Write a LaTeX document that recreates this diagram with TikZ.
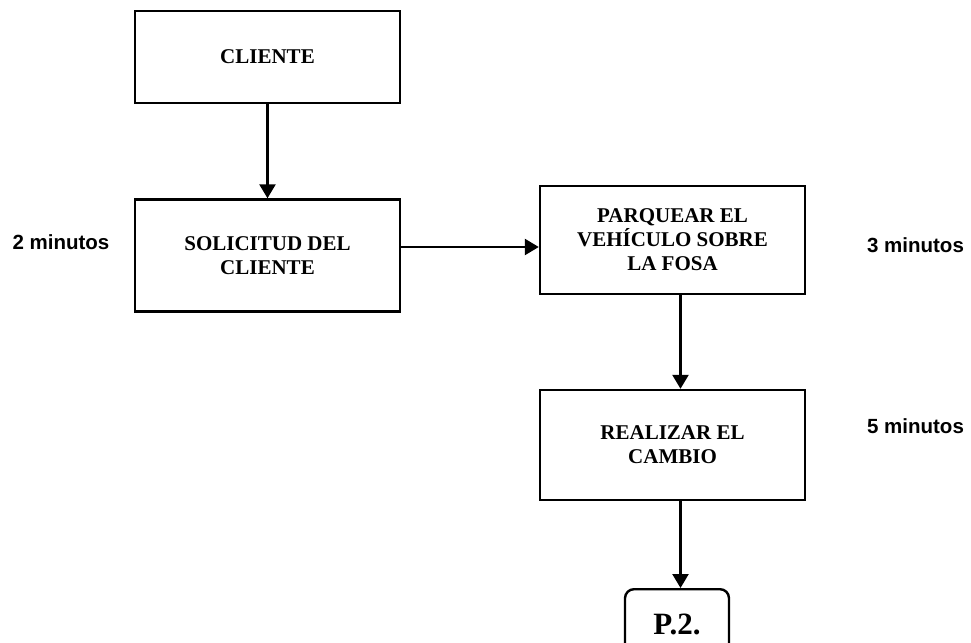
\documentclass[tikz,border=0pt]{standalone}
\usepackage{fontspec}
\setmainfont{Liberation Serif}
\newfontfamily\arialfont{Liberation Sans}
\usetikzlibrary{arrows.meta}
\begin{document}
\begin{tikzpicture}[x=1pt,y=-1pt,
  stepbox/.style={draw,line width=2.4pt,minimum width=265pt,align=center,
    inner sep=0pt,font=\fontsize{21}{24}\selectfont\bfseries},
  flow/.style={line width=2.4pt,-{Triangle[length=14pt,width=16pt]}},
  timelabel/.style={inner sep=0pt,anchor=base,
    font=\arialfont\fontsize{20.5}{24}\selectfont\bfseries}]
\useasboundingbox (0,0) rectangle (971,642);

% process steps
\node[stepbox,minimum height=92pt]  (cliente) at (267.5,57)    {CLIENTE};
\node[stepbox,minimum height=112pt] (sol)     at (267.5,255.5) {SOLICITUD DEL\\CLIENTE};
\node[stepbox,minimum height=108pt] (park)    at (672.5,240)   {PARQUEAR EL\\VEHÍCULO SOBRE\\LA FOSA};
\node[stepbox,minimum height=110pt] (real)    at (672.5,445)   {REALIZAR EL\\CAMBIO};

% off-page connector
\node[draw,line width=2.4pt,rounded corners=9pt,minimum width=104pt,
      minimum height=70pt,anchor=north,inner sep=0pt,
      font=\fontsize{31}{34}\selectfont\bfseries] (p2) at (677,588) {P.2.};

% durations
\node[timelabel] (t2) at (61,249.5)  {2 minutos};
\node[timelabel] (t3) at (915.5,252) {3 minutos};
\node[timelabel] (t5) at (915.5,433) {5 minutos};

% flow
\draw[flow] (cliente.south) -- (sol.north);
\draw[flow] ([yshift=8.5pt]sol.east) -- ([yshift=8.5pt]sol.east -| park.west);
\draw[flow] ([xshift=8pt]park.south) -- ([xshift=8pt]real.north);
\draw[flow] ([xshift=8pt]real.south) -- ([xshift=3.5pt]p2.north);
\end{tikzpicture}
\end{document}
